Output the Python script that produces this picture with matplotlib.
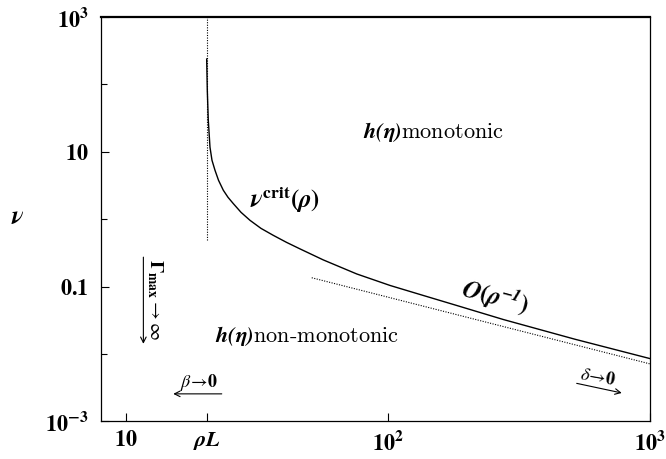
import numpy as np
import matplotlib
matplotlib.use("Agg")
import matplotlib.pyplot as plt
from matplotlib.ticker import FixedLocator, FixedFormatter, NullLocator

plt.rcParams['mathtext.fontset'] = 'stix'

# critical curve nu_crit(rho)
rho_crit = [20.32, 20.43, 20.61, 20.92, 21.29, 21.86, 22.55, 23.52, 24.51, 25.68,
            27.48, 29.74, 32.75, 36.49, 41.0, 46.14, 56.62, 75.95, 101.8, 136.4,
            182.9, 275.5, 517.2, 1000.0]
nu_crit = [237.6, 82.3, 29.5, 11.71, 7.50, 5.33, 3.78, 2.69, 2.115, 1.705,
           1.266, 0.963, 0.732, 0.577, 0.4537, 0.3633, 0.2493, 0.1544, 0.1042, 0.0740,
           0.0526, 0.03256, 0.0166, 0.00857]

# O(rho^-1) asymptote
rho_asym = [51.15, 1000.0]
nu_asym = [0.1356, 0.00715]

rho_L = 20.3
nu_vline = [0.49, 1000.0]

xticks = [10, rho_L, 100, 1000]
xticklabels = [r'$\mathbf{10}$', r'$\mathbfit{\rho L}$', r'$\mathbf{10^2}$', r'$\mathbf{10^3}$']
yticks = [1e-3, 0.1, 10, 1e3]
yticklabels = [r'$\mathbf{10^{-3}}$', r'$\mathbf{0.1}$', r'$\mathbf{10}$', r'$\mathbf{10^3}$']
yminor = [1e-2, 1, 1e2]

fig = plt.figure(figsize=(6.66, 4.59), dpi=100)
ax = fig.add_axes([0.1517, 0.0817, 0.8243, 0.8813])
ax.set_xscale('log')
ax.set_yscale('log')
ax.set_xlim(8.03, 1000)
ax.set_ylim(1e-3, 1e3)

ax.plot(rho_crit, nu_crit, color='black', lw=1.0)
ax.plot(rho_asym, nu_asym, color='black', lw=0.8, ls=(0, (1, 1.3)))
ax.plot([rho_L, rho_L], nu_vline, color='black', lw=0.8, ls=(0, (1, 1.3)))

ax.xaxis.set_major_locator(FixedLocator(xticks))
ax.xaxis.set_major_formatter(FixedFormatter(xticklabels))
ax.xaxis.set_minor_locator(NullLocator())
ax.yaxis.set_major_locator(FixedLocator(yticks))
ax.yaxis.set_major_formatter(FixedFormatter(yticklabels))
ax.yaxis.set_minor_locator(FixedLocator(yminor))
ax.yaxis.set_minor_formatter(FixedFormatter(['', '', '']))
ax.tick_params(which='both', direction='in', top=False, right=False, width=0.8)
ax.tick_params(which='major', length=6, labelsize=16)
ax.tick_params(which='minor', length=4)
ax.tick_params(axis='y', pad=9)
ax.tick_params(axis='x', pad=6)
for sp in ax.spines.values():
    sp.set_linewidth(0.9)
ax.spines['top'].set_linewidth(1.6)

fig.text(18 / 666, 1 - 217 / 459, r'$\mathbfit{\nu}$', fontsize=18,
         ha='center', va='center')

ax.text(80.3, 20, r'$\mathbfit{h(\eta)}$monotonic', fontsize=16, family='cmr10',
        ha='left', va='center')
ax.text(21.9, 0.0188, r'$\mathbfit{h(\eta)}$non-monotonic', fontsize=16, family='cmr10',
        ha='left', va='center')
ax.text(29.8, 1.91, r'$\mathbfit{\nu}^{\mathbf{crit}}\mathbf{(}\mathbfit{\rho}\mathbf{)}$',
        fontsize=18, ha='left', va='center')
ax.text(256, 0.0705, r'$\mathbfit{O}\mathbf{(}\mathbfit{\rho}^{\mathbfit{-1}}\mathbf{)}$',
        fontsize=18, ha='center', va='center', rotation=-15)

# Gamma_max -> infinity, vertical
ax.text(12.9, 0.0646, r'$\mathbf{\Gamma}_{\mathbf{max}}\rightarrow\infty$', fontsize=14,
        ha='center', va='center', rotation=-90)
ax.annotate('', xy=(11.65, 0.0142), xytext=(11.65, 0.274),
            arrowprops=dict(arrowstyle='->', lw=0.8, color='black', shrinkA=0, shrinkB=0))

# beta -> 0
ax.text(18.9, 0.00381, r'$\beta\!\rightarrow\!\mathbf{0}$', fontsize=13,
        ha='center', va='center')
ax.annotate('', xy=(15.15, 0.00257), xytext=(23.2, 0.00257),
            arrowprops=dict(arrowstyle='->', lw=0.8, color='black', shrinkA=0, shrinkB=0))

# delta -> 0
ax.text(635, 0.00452, r'$\delta\!\rightarrow\!\mathbf{0}$', fontsize=13,
        ha='center', va='center', rotation=-10)
ax.annotate('', xy=(780, 0.00265), xytext=(525, 0.00368),
            arrowprops=dict(arrowstyle='->', lw=0.8, color='black', shrinkA=0, shrinkB=0))

fig.savefig('out.png', dpi=100)
